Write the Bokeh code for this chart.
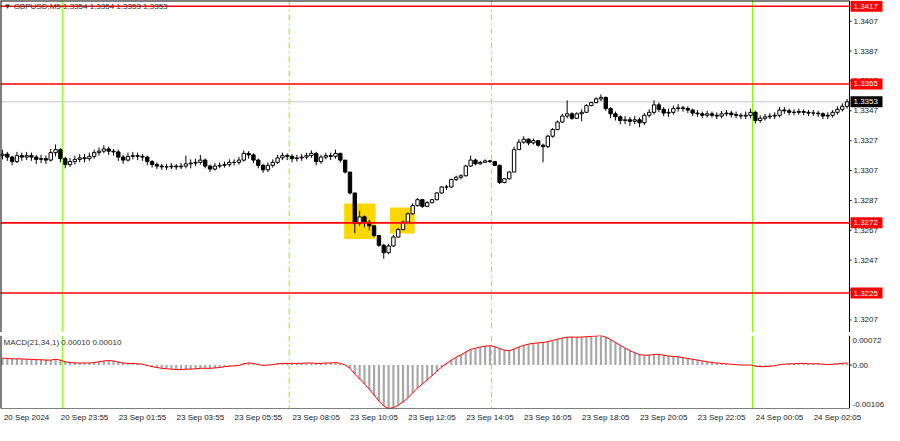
from bokeh.plotting import figure
from bokeh.layouts import column
from bokeh.models import Range1d, FixedTicker, Span
from bokeh.core.properties import value
from bokeh.embed import file_html
from bokeh.resources import INLINE

# ---------------- data ----------------
BASE = 1.3300          # price series below are in pips (0.0001) above BASE
OPEN0_PIPS = 17
CLOSE_PIPS = [18, 16, 13, 17, 16, 17, 16, 14.5, 15, 14, 19, 21, 15, 11, 13, 14.5, 15.5, 15, 16.5, 19,
              20, 21.5, 20, 19.5, 16, 14, 16.5, 17, 16.5, 16, 13, 11, 10, 9.5, 9.5, 10, 9.5, 10, 11.5, 12,
              12.5, 14, 10, 8, 10, 10.5, 11, 12.5, 12.5, 14, 18.5, 17.5, 14, 10.5, 7.5, 10.5, 12.5, 15.5, 17, 16.5,
              15, 15.5, 16, 17, 18.5, 13, 16, 17, 16.5, 18.5, 14, 6, -8, -28.5, -24, -27.5, -30, -36.5, -43, -48,
              -43.5, -37.5, -32.5, -27.5, -22, -16.5, -12.5, -17, -14.5, -12.5, -8, -4, -4, 1, 2.5, 3.5, 10, 14, 11.5, 12.5,
              13.5, 13, 10.5, -1, 1.5, 6, 21, 26, 28, 25.5, 27, 24, 23, 30, 34.5, 39.5, 43.5, 45, 42, 45,
              46, 50.5, 52.5, 55, 56, 48.5, 45, 43, 40.5, 41, 40, 41, 39, 44, 46, 51, 48, 45.5, 46, 48.5,
              49, 48.5, 47.5, 45.5, 45, 44, 45, 44, 43.5, 45, 45.5, 44.5, 44, 43.5, 44, 46, 40.5, 42, 43, 43.5,
              44, 47.5, 47, 46, 46, 46.5, 46, 45.5, 45.5, 45, 43.5, 44, 46, 48, 50, 53]
HIGH_PIPS = [21, 19.5, 17, 19.5, 19, 19.5, 19, 17.5, 17.5, 17, 21.5, 24.5, 22, 16, 15.5, 17, 18, 18, 19, 21,
             22.5, 24, 23, 21.5, 21, 17.5, 19, 19.5, 19, 18, 17, 14, 12.5, 11.5, 11.5, 12, 11.5, 12, 17, 14.5,
             15, 17.5, 15, 11, 12, 12.5, 13, 14.5, 14.5, 16, 20.5, 20, 18.5, 15, 11.5, 12.5, 14.5, 17.5, 19, 18.5,
             18, 17.5, 18, 19, 20.5, 19.5, 17.5, 19, 19, 21, 19, 14, 6, -8, -20, -23, -26, -30, -36, -42,
             -42, -36, -31.5, -26.5, -21, -15, -11.5, -12, -13.5, -12, -7.5, -3.5, -2.5, 1.5, 3.5, 4.5, 11, 17, 15, 13.5,
             14.5, 14, 13.5, 11, 2, 6.5, 23, 28, 30, 28.5, 28.5, 27.5, 25, 31, 35.5, 40.5, 45, 54, 46, 46,
             48, 51.5, 53, 56, 58, 56.5, 49.5, 46.5, 44, 43.5, 43, 43.5, 42.5, 45.5, 48, 54, 52.5, 49.5, 48.5, 50.5,
             51.5, 50.5, 50, 48.5, 47.5, 46.5, 47, 46.5, 46, 47, 47.5, 47, 46.5, 45.5, 46.5, 48.5, 47, 44, 45, 45.5,
             46, 49.5, 49.5, 48.5, 48, 48.5, 48, 47.5, 47.5, 47, 46, 46, 47.5, 50, 52, 55]
LOW_PIPS = [14.5, 13.5, 10.5, 12, 13.5, 14, 13.5, 11.5, 12, 11.5, 13, 16.5, 12.5, 8.5, 9.5, 11, 12.5, 12.5, 13.5, 15,
            17, 18.5, 17.5, 17, 13.5, 11.5, 13, 14.5, 14, 13.5, 10.5, 9, 8, 7.5, 7.5, 8, 7.5, 8, 8.5, 8.5,
            10, 11, 8.5, 6, 7, 8.5, 9, 9.5, 10.5, 11, 13, 15, 12, 8.5, 5.5, 6, 9, 11.5, 14, 14,
            12.5, 13, 13.5, 14.5, 15.5, 10.5, 11.5, 14.5, 14, 15, 12.5, 5, -9, -35, -30, -31, -33, -37.5, -44, -52,
            -49, -44, -38, -33, -28, -22.5, -17, -18, -17.5, -15, -13, -8.5, -6, -4.5, 0, 1, 3, 9.5, 10.5, 11,
            12, 12, 10, -2, -1.5, 1, 6, 21, 25, 24, 24.5, 23, 12.5, 22, 29, 34, 39, 42, 41, 41.5,
            40, 45.5, 50, 52, 53.5, 47, 42, 40.5, 38, 38, 37, 38, 36, 37.5, 42.5, 44.5, 46, 43.5, 43, 44.5,
            46.5, 46.5, 45.5, 43.5, 43, 42, 42.5, 42.5, 41.5, 42, 43.5, 42.5, 42, 41.5, 41.5, 42, 38.5, 39, 40.5, 41.5,
            41.5, 42.5, 45, 44, 44, 44.5, 44, 43.5, 43.5, 43, 41.5, 41.5, 42.5, 44.5, 46.5, 48.5]
# MACD(21,34,1) main = signal, in units of 0.00001
MACD_E5 = [17, 16, 15, 15, 15, 14, 14, 13, 13, 12, 12, 14, 12, 8, 6, 5, 5, 5, 5, 6,
           8, 10, 11, 10, 7, 5, 4, 4, 3, 2, -1, -4, -6, -8, -9, -10, -11, -11, -10, -10,
           -9, -8, -8, -8, -7, -6, -4, -3, -2, -1, 3, 5, 4, 1, -1, 0, 1, 3, 4, 4,
           4, 4, 4, 5, 5, 4, 4, 5, 5, 6, 4, 0, -8, -22, -34, -46, -59, -73, -88, -100,
           -106, -104, -98, -90, -80, -68, -56, -46, -36, -26, -15, -5, 4, 12, 19, 25, 32, 38, 41, 44,
           46, 47, 45, 40, 36, 35, 39, 44, 48, 51, 53, 54, 55, 57, 60, 63, 66, 68, 68, 68,
           68, 69, 70, 71, 72, 68, 62, 55, 48, 41, 35, 30, 25, 24, 24, 26, 26, 24, 22, 21,
           20, 18, 16, 14, 12, 10, 8, 6, 5, 4, 3, 2, 1, 0, 0, 0, -3, -4, -4, -3,
           -2, 1, 2, 3, 3, 4, 4, 3, 3, 3, 2, 1, 2, 3, 4, 5]

TIME_LABEL_BARS = [0, 12, 24, 36, 48, 60, 72, 84, 96, 108, 120, 132, 144, 156, 168]
TIME_LABELS = ["20 Sep 2024", "20 Sep 23:55", "23 Sep 01:55", "23 Sep 03:55", "23 Sep 05:55",
               "23 Sep 08:05", "23 Sep 10:05", "23 Sep 12:05", "23 Sep 14:05", "23 Sep 16:05",
               "23 Sep 18:05", "23 Sep 20:05", "23 Sep 22:05", "24 Sep 00:05", "24 Sep 02:05"]
PRICE_TICKS = [1.3207, 1.3227, 1.3247, 1.3267, 1.3287, 1.3307, 1.3327, 1.3347, 1.3367, 1.3387, 1.3407]
LEVELS = [1.3417, 1.3365, 1.3272, 1.3225]
BID = 1.3353
VLINES_SOLID = [12.4, 155.4]
VLINES_DASH = [59.4, 101.3]
BOX_LEFT = [70.8, 80.3]
BOX_RIGHT = [77.3, 85.4]
BOX_TOP = [1.32849, 1.32823]
BOX_BOTTOM = [1.32611, 1.32649]
MACD_SCALE = [0.00072, 0.0, -0.00106]
MACD_SCALE_TEXT = ["0.00072", "0.00", "-0.00106"]
TITLE = "\u25BC GBPUSD,M5  1.3354 1.3354 1.3353 1.3353"
MACD_TITLE = "MACD(21,34,1) 0.00010 0.00010"

# ---------------- layout ----------------
TOTAL_W, PLOT_W, MAIN_H, SEP_H, MACD_H = 884, 849, 332, 3, 73
X_START, X_PLOT_END = -0.41, 175.5
Y_MIN, Y_MAX = 1.319857, 1.342087
M_MIN, M_MAX = -0.00106, 0.00072
FONT = "Liberation Sans"
TXT = "#1a1a1a"
GREEN = "#7CFC00"

dxpx = (X_PLOT_END - X_START) / PLOT_W
X_END = X_PLOT_END + (TOTAL_W - PLOT_W) * dxpx
dypx = (Y_MAX - Y_MIN) / MAIN_H
dmpx = (M_MAX - M_MIN) / MACD_H

n = len(CLOSE_PIPS)
idx = list(range(n))
close = [BASE + v / 1e4 for v in CLOSE_PIPS]
high = [BASE + v / 1e4 for v in HIGH_PIPS]
low = [BASE + v / 1e4 for v in LOW_PIPS]
opn = [BASE + OPEN0_PIPS / 1e4] + close[:-1]
macd = [v / 1e5 for v in MACD_E5]

x_range = Range1d(X_START, X_END)


def frame_lines(fig, y0, y1, top=True, bottom=False):
    # left border, right border (axis line), optional top / bottom border of the plot area
    fig.segment(x0=[X_START, X_PLOT_END], y0=[y0, y0], x1=[X_START, X_PLOT_END], y1=[y1, y1],
                line_color="black", line_width=[2, 1])
    if top:
        fig.segment(x0=[X_START], y0=[y1], x1=[X_PLOT_END], y1=[y1], line_color="black", line_width=2)
    if bottom:
        fig.segment(x0=[X_START], y0=[y0], x1=[X_PLOT_END], y1=[y0], line_color="black", line_width=1)


# ---------- main price panel ----------
p = figure(frame_width=TOTAL_W, frame_height=MAIN_H, x_range=x_range,
           y_range=Range1d(Y_MIN, Y_MAX), x_axis_location=None, y_axis_location=None,
           toolbar_location=None, output_backend="svg", min_border=0, outline_line_color=None)
p.grid.visible = False

for v in VLINES_SOLID:
    p.add_layout(Span(location=v, dimension="height", line_color=GREEN, line_width=1, level="underlay"))
for v in VLINES_DASH:
    p.add_layout(Span(location=v, dimension="height", line_color=GREEN, line_width=1,
                      line_dash="6 3 2 3", level="underlay"))

p.quad(left=BOX_LEFT, right=BOX_RIGHT, top=BOX_TOP, bottom=BOX_BOTTOM, fill_color="#FFD700", line_color=None)
p.segment(x0=[X_START], y0=[BID], x1=[X_PLOT_END], y1=[BID], line_color="#C8C8C8", line_width=1)

p.segment(x0=idx, y0=low, x1=idx, y1=high, line_color="black", line_width=1)
up = [i for i in idx if close[i] >= opn[i]]
dn = [i for i in idx if close[i] < opn[i]]
p.vbar(x=up, width=0.7, top=[close[i] for i in up], bottom=[opn[i] for i in up],
       fill_color="white", line_color="black", line_width=1)
p.vbar(x=dn, width=0.7, top=[opn[i] for i in dn], bottom=[close[i] for i in dn],
       fill_color="black", line_color="black", line_width=1)

p.segment(x0=[X_START] * len(LEVELS), y0=LEVELS, x1=[X_PLOT_END] * len(LEVELS), y1=LEVELS,
          line_color="#FF0000", line_width=1.6)

frame_lines(p, Y_MIN, Y_MAX, top=True)

# price scale (right)
p.segment(x0=[X_PLOT_END] * len(PRICE_TICKS), y0=PRICE_TICKS,
          x1=[X_PLOT_END + 2 * dxpx] * len(PRICE_TICKS), y1=PRICE_TICKS, line_color="black", line_width=1)
p.text(x=[X_PLOT_END + 4 * dxpx] * len(PRICE_TICKS), y=PRICE_TICKS, text=["%.4f" % t for t in PRICE_TICKS],
       text_font=value(FONT), text_font_size="8px", text_color=TXT,
       text_baseline="middle", text_align="left")

tag_y = LEVELS + [BID]
tag_fill = ["#FF0000"] * len(LEVELS) + ["#000000"]
p.quad(left=[X_PLOT_END + 1 * dxpx] * len(tag_y), right=[X_PLOT_END + 33 * dxpx] * len(tag_y),
       top=[y + 5.5 * dypx for y in tag_y], bottom=[y - 5.5 * dypx for y in tag_y],
       fill_color=tag_fill, line_color=None)
p.text(x=[X_PLOT_END + 4 * dxpx] * len(tag_y), y=tag_y, text=["%.4f" % t for t in tag_y],
       text_font=value(FONT), text_font_size="8px", text_color="white",
       text_baseline="middle", text_align="left")

p.text(x=[X_START + 3 * dxpx], y=[Y_MAX - 1.5 * dypx], text=[TITLE],
       text_font=value(FONT), text_font_size="8px", text_color="#333333",
       text_baseline="top", text_align="left")

# ---------- separator ----------
sep = figure(frame_width=PLOT_W, frame_height=SEP_H, x_axis_location=None, y_axis_location=None,
             toolbar_location=None, output_backend="svg", min_border=0,
             background_fill_color="#A0A0A0", outline_line_color=None)
sep.grid.visible = False

# ---------- MACD panel ----------
m = figure(frame_width=TOTAL_W, frame_height=MACD_H, x_range=x_range,
           y_range=Range1d(M_MIN, M_MAX), y_axis_location=None,
           toolbar_location=None, output_backend="svg", min_border=0, outline_line_color=None)
m.grid.visible = False

mx = m.xaxis[0]
mx.ticker = FixedTicker(ticks=[b + 5 for b in TIME_LABEL_BARS])
mx.major_label_overrides = {b + 5: t for b, t in zip(TIME_LABEL_BARS, TIME_LABELS)}
mx.major_tick_in = 0
mx.major_tick_out = 0
mx.minor_tick_line_color = None
mx.major_label_standoff = 4
mx.major_label_text_font = FONT
mx.major_label_text_font_size = "8px"
mx.major_label_text_color = TXT
mx.axis_line_color = None

for v in VLINES_SOLID:
    m.add_layout(Span(location=v, dimension="height", line_color=GREEN, line_width=1, level="underlay"))
for v in VLINES_DASH:
    m.add_layout(Span(location=v, dimension="height", line_color=GREEN, line_width=1,
                      line_dash="6 3 2 3", level="underlay"))

m.vbar(x=idx, width=0.45, top=macd, bottom=0, fill_color="#A8A8A8", line_color=None)
m.line(x=idx, y=macd, line_color="#FF0000", line_width=1)

frame_lines(m, M_MIN, M_MAX, top=False, bottom=True)

# MACD scale (right): top / bottom values are written just inside the panel, as in MT4
scale_pos = [MACD_SCALE[0] - 5 * dmpx, MACD_SCALE[1], MACD_SCALE[2] + 4 * dmpx]
m.segment(x0=[X_PLOT_END], y0=[0.0], x1=[X_PLOT_END + 2 * dxpx], y1=[0.0], line_color="black")
m.text(x=[X_PLOT_END + 3 * dxpx] * 3, y=scale_pos, text=MACD_SCALE_TEXT,
       text_font=value(FONT), text_font_size="8px", text_color=TXT,
       text_baseline="middle", text_align="left")
m.text(x=[X_START + 3 * dxpx], y=[M_MAX - 2 * dmpx], text=[MACD_TITLE],
       text_font=value(FONT), text_font_size="8px", text_color="#333333",
       text_baseline="top", text_align="left")

layout = column(p, sep, m, spacing=0)
open("out.html", "w").write(file_html(layout, INLINE))
